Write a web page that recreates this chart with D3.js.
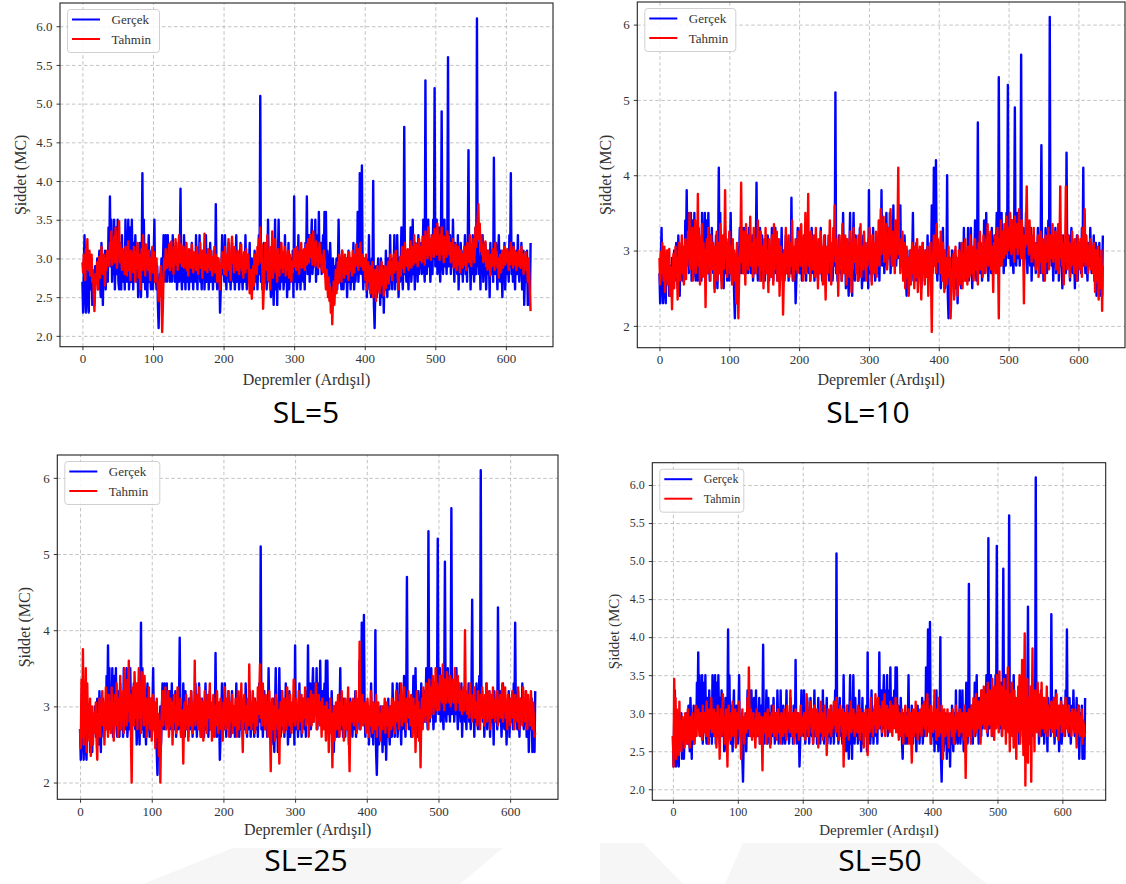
<!DOCTYPE html>
<html>
<head>
<meta charset="utf-8">
<script src="https://cdn.jsdelivr.net/npm/d3@7"></script>
<style>
  body { margin: 0; background: #fff; }
  svg { display: block; }
</style>
</head>
<body>
<div id="chart"></div>
<script>
// gerçek büyüklükler (aynı seri dört panelde)
const gercek = [
  2.7,2.3,2.9,3.3,2.6,2.3,2.8,3.0,2.5,2.3,2.9,2.7,2.6,3.0,2.4,2.8,2.6,2.4,2.9,2.7,
  2.8,3.0,2.6,2.9,3.1,2.7,2.5,3.2,2.9,2.4,3.0,2.8,3.1,2.6,2.9,3.0,2.7,3.4,3.0,3.8,
  2.9,3.5,2.7,3.1,2.8,3.5,2.6,3.0,3.4,2.8,3.5,2.7,2.6,3.2,3.0,2.6,3.3,2.8,2.7,3.1,
  2.6,3.5,2.9,2.7,3.0,3.5,2.6,2.8,3.4,2.7,3.5,3.0,2.6,3.2,2.8,3.3,2.9,2.7,3.0,2.5,
  2.9,3.2,2.8,2.5,3.0,4.1,2.7,3.5,2.9,2.6,3.1,2.8,2.5,3.0,3.3,2.7,2.9,2.6,3.1,2.8,
  2.6,3.0,3.5,2.7,2.8,2.6,2.9,2.4,2.1,2.6,2.8,2.7,3.0,2.5,2.9,3.3,2.8,2.7,3.3,2.9,
  2.7,3.3,2.8,3.0,2.7,3.2,2.9,2.7,3.3,2.8,3.0,2.7,2.9,3.2,2.6,2.8,3.1,2.7,3.0,3.9,
  2.8,2.6,3.0,2.7,3.3,2.9,2.6,3.2,2.8,2.7,3.0,2.6,3.1,2.8,2.7,3.2,2.9,2.6,3.0,2.8,
  2.7,3.3,2.9,2.6,3.0,2.8,3.3,2.7,2.9,2.6,3.1,2.8,3.0,2.6,2.9,3.3,2.7,2.8,3.0,2.6,
  2.9,3.2,2.7,2.8,3.0,2.6,3.1,2.9,2.7,3.7,2.8,2.6,3.0,2.7,2.9,2.3,2.6,2.9,3.3,2.8,
  3.0,2.7,3.3,2.9,2.6,3.0,2.8,3.2,2.7,2.9,2.6,3.0,3.2,2.8,2.7,3.0,2.6,2.9,3.3,2.7,
  2.8,3.0,2.6,2.9,3.2,2.7,2.8,2.6,3.0,2.9,2.7,3.3,2.8,2.6,3.0,2.7,2.9,3.2,2.6,2.8,
  3.0,2.7,2.9,2.6,3.1,2.8,2.7,3.0,2.6,2.9,3.3,2.8,5.1,2.7,3.0,2.6,2.9,3.2,2.8,2.7,
  3.0,2.6,2.8,3.5,2.9,2.7,3.0,2.5,2.8,3.1,2.7,2.4,3.0,3.5,2.6,2.9,2.4,3.0,3.5,2.8,
  2.6,3.2,2.7,2.9,3.0,2.6,2.8,3.3,2.7,3.0,2.5,2.8,3.2,2.6,2.9,2.7,3.0,2.8,3.1,2.5,
  3.8,2.7,2.9,3.0,2.6,2.8,3.3,2.7,3.0,2.6,2.9,3.1,2.8,2.7,3.0,2.6,3.2,2.9,3.8,2.8,
  3.0,3.3,2.7,2.9,3.2,3.5,2.8,3.0,3.3,2.9,3.5,2.7,3.0,3.3,2.8,3.6,2.9,3.0,3.2,2.8,
  3.0,3.3,2.9,3.6,3.0,3.6,2.8,3.1,2.9,3.0,2.7,3.2,2.9,2.6,2.4,3.0,2.7,2.9,2.6,2.8,
  3.0,2.6,2.9,3.5,2.7,3.0,2.8,2.6,3.1,2.8,2.6,3.0,2.9,2.7,3.0,2.5,2.8,3.1,2.7,2.9,
  2.6,3.0,2.8,2.7,3.2,2.6,2.9,2.7,3.0,2.8,3.6,2.7,2.9,4.1,3.0,2.8,4.2,2.9,2.6,3.0,
  2.8,2.7,3.0,2.5,2.9,2.7,3.3,2.6,2.8,2.5,3.0,2.7,4.0,2.4,2.1,2.6,2.9,2.5,2.7,3.0,
  2.6,2.8,2.4,3.0,2.7,2.5,2.9,2.3,2.8,2.6,3.1,2.7,2.5,3.0,2.8,2.6,3.3,2.7,2.9,2.6,
  3.0,2.8,3.3,2.6,2.9,2.7,3.3,2.8,2.5,3.0,2.7,2.9,3.4,2.8,2.6,3.0,4.7,2.8,3.0,2.7,
  3.1,2.9,2.6,3.0,2.8,3.4,2.7,2.9,3.5,2.8,3.0,2.6,3.2,2.9,3.0,2.7,3.3,2.8,3.0,2.9,
  3.2,2.8,3.0,3.5,2.9,2.7,5.3,3.0,2.8,3.2,3.5,2.9,3.1,2.7,3.0,3.3,2.8,3.5,3.0,5.2,
  2.9,3.1,3.5,2.8,3.0,3.4,2.9,2.7,3.2,4.9,3.0,2.8,3.3,3.5,2.9,3.1,2.8,3.2,5.6,2.9,
  3.0,3.3,2.8,3.1,2.9,3.5,3.0,2.7,3.2,2.9,3.0,2.8,3.3,2.6,3.0,2.9,3.2,2.8,3.0,2.7,
  3.1,2.9,3.3,2.8,3.0,2.7,3.2,4.4,2.9,3.0,2.6,3.1,2.8,3.3,2.9,2.7,3.0,3.4,2.8,6.1,
  2.9,3.2,2.8,3.0,2.6,3.1,2.9,3.3,2.7,3.0,2.8,3.2,2.6,2.9,3.1,2.8,3.0,2.5,3.2,2.8,
  2.9,3.1,2.7,4.3,3.0,2.8,3.2,2.9,2.6,3.0,3.3,2.8,2.7,3.1,2.9,2.5,3.0,2.8,3.2,2.6,
  2.9,3.1,2.8,3.0,2.7,3.3,2.9,4.1,2.8,3.0,2.7,3.2,2.9,2.6,3.0,3.1,2.8,3.3,2.9,2.7,
  3.0,2.8,3.2,2.6,2.9,3.1,2.4,2.8,3.0,2.7,3.1,2.4,2.9,2.6,2.4,3.2
];

// tahminler, SL=5
const tahminSL5 = [
  2.95,2.82,3.05,2.88,2.72,3.12,2.90,3.25,2.85,2.98,3.10,2.78,2.92,3.05,2.70,2.85,2.55,2.32,2.62,2.80,
  2.70,2.95,2.60,2.88,3.02,2.75,2.90,3.15,2.98,2.80,3.05,2.92,2.65,3.00,2.85,3.10,2.95,3.08,2.90,3.20,
  3.05,3.35,2.92,3.15,3.00,3.28,2.95,3.40,3.10,2.88,3.22,3.05,3.48,2.95,3.18,3.02,2.85,3.12,2.90,3.05,
  2.80,3.15,2.95,2.78,3.08,3.22,2.85,3.00,2.72,3.10,2.90,3.05,2.82,3.15,2.95,2.70,3.08,2.88,3.20,2.92,
  2.75,3.05,2.60,2.95,3.12,2.85,3.30,2.98,3.05,2.78,3.18,2.92,3.02,2.85,3.10,2.95,2.72,3.00,2.88,3.15,
  2.82,2.95,3.08,2.70,2.88,3.00,2.75,2.62,2.45,2.55,2.72,2.90,2.55,2.05,2.38,2.80,3.00,2.85,3.12,2.95,
  2.88,3.05,2.92,3.18,2.85,3.00,3.22,2.90,3.05,2.80,3.15,2.98,3.25,2.92,3.08,2.85,3.12,3.30,2.95,3.05,
  3.18,2.90,3.02,3.15,2.88,3.05,2.95,3.20,2.85,3.00,2.78,3.12,2.92,3.05,2.88,3.18,2.95,2.82,3.08,2.90,
  3.02,2.85,3.15,2.92,2.80,3.05,2.95,3.20,2.88,3.00,2.75,3.10,2.92,3.32,2.85,3.05,2.95,2.82,3.12,2.90,
  3.00,2.85,3.10,2.95,2.78,3.02,2.90,3.15,2.82,3.05,2.95,2.70,2.88,3.00,2.75,2.60,2.85,2.95,3.08,2.88,
  3.00,2.80,3.15,2.92,2.78,3.05,2.90,3.25,2.85,3.00,2.72,3.10,3.28,2.95,3.05,2.82,3.15,2.92,3.02,2.85,
  3.10,2.95,2.80,3.05,2.90,3.18,2.85,3.00,2.75,3.08,2.92,2.82,3.12,2.95,2.88,3.05,2.78,2.55,2.68,2.85,
  2.48,2.72,2.90,2.65,3.05,2.88,3.00,2.80,3.15,2.92,3.25,3.05,3.40,2.95,3.18,2.85,2.35,2.62,2.90,3.20,
  3.05,2.85,3.30,2.72,3.10,2.95,2.60,3.15,2.88,3.35,2.75,3.05,2.92,3.25,2.82,3.00,2.70,3.12,2.90,2.78,
  3.05,2.88,3.20,2.95,2.82,3.08,2.90,3.15,2.78,3.00,2.85,3.10,2.92,2.75,3.05,2.88,2.70,2.95,2.82,3.00,
  3.12,2.90,3.05,2.85,3.15,2.95,3.02,2.80,3.10,2.92,3.20,2.88,3.05,2.95,3.12,2.85,3.00,3.18,2.92,3.08,
  3.25,2.95,3.10,3.30,3.02,3.18,2.92,3.35,3.05,3.15,2.90,3.22,3.00,3.12,2.88,3.08,3.20,2.95,3.05,2.85,
  3.00,2.82,3.10,2.95,2.78,2.60,2.85,2.70,2.50,2.75,2.45,2.62,2.30,2.55,2.15,2.48,2.70,2.40,2.62,2.85,
  2.55,2.78,2.95,2.68,3.05,2.82,2.95,2.70,3.10,2.85,2.98,2.75,3.05,2.90,2.80,3.00,2.88,2.72,3.08,2.92,
  2.85,3.00,2.78,3.10,2.92,2.82,3.05,2.90,3.18,2.95,3.02,2.85,3.12,2.98,3.20,2.90,3.05,2.95,2.85,3.00,
  2.88,2.72,3.05,2.60,2.85,2.95,2.70,2.90,2.55,2.80,2.68,2.95,2.50,2.78,2.62,2.85,2.45,2.72,2.90,2.60,
  2.78,2.55,2.88,2.65,2.95,2.70,2.85,2.52,2.78,2.90,2.62,2.85,2.75,2.95,2.68,2.88,3.05,2.80,2.95,2.72,
  2.90,3.05,2.82,2.98,3.10,2.85,2.95,2.72,2.60,2.88,3.02,2.78,2.95,3.15,2.88,3.00,2.82,3.20,2.95,3.08,
  2.90,3.12,2.85,3.00,2.95,3.22,2.88,3.05,3.15,2.92,3.30,3.02,2.95,3.18,3.08,2.90,3.12,3.25,2.98,3.05,
  3.15,2.95,3.28,3.05,3.18,2.92,3.35,3.10,3.20,3.00,3.40,3.15,3.05,3.25,2.98,3.30,3.12,3.20,3.02,3.38,
  3.15,3.25,3.05,3.45,3.10,3.22,2.98,3.30,3.12,3.40,3.05,3.18,2.95,3.28,3.10,3.20,3.02,3.35,3.15,3.28,
  3.05,3.20,2.95,3.12,3.00,3.25,2.88,3.08,2.95,3.18,2.85,3.05,2.92,3.15,3.00,2.82,3.10,2.95,3.05,2.88,
  3.00,3.15,2.92,3.08,2.85,3.20,3.00,3.12,2.95,3.30,3.05,2.90,3.18,3.00,3.25,2.95,3.10,3.40,3.15,3.30,
  3.50,3.70,3.25,3.45,3.10,3.30,3.05,3.18,2.95,3.12,3.00,3.22,2.90,3.05,2.85,3.10,2.95,3.02,2.78,3.05,
  2.90,3.12,2.95,3.05,2.85,3.20,2.98,3.08,2.88,3.00,2.75,2.92,3.05,2.82,2.95,3.10,2.88,3.00,3.15,2.92,
  3.05,2.95,3.12,3.00,2.85,3.08,2.92,3.20,2.98,3.05,2.88,3.15,3.00,2.92,3.08,2.85,3.02,2.95,3.10,2.90,
  3.02,2.88,3.15,2.95,3.05,2.80,3.00,2.92,3.08,2.85,2.95,2.70,3.00,2.78,2.55,2.32
];

// tahminler, SL=10
const tahminSL10 = [
  2.90,2.55,2.98,2.70,3.10,2.80,2.60,3.05,2.45,2.90,2.75,3.00,2.55,2.85,3.02,2.40,2.78,2.60,2.22,2.70,
  2.95,2.50,2.80,3.05,2.65,2.90,2.35,2.75,3.10,2.60,2.95,2.80,3.20,2.70,3.05,2.55,2.88,3.15,2.62,3.00,
  2.80,3.25,2.90,3.50,2.75,3.10,2.95,3.30,2.60,3.05,2.85,3.40,2.70,3.15,2.95,3.75,2.80,3.20,2.55,3.05,
  2.90,3.35,2.65,3.10,2.85,3.00,2.25,2.95,3.15,2.70,3.30,2.85,3.05,2.60,3.20,2.90,2.75,3.10,2.95,2.45,
  3.05,2.80,3.25,2.60,2.95,3.10,2.70,3.35,2.85,2.50,3.00,3.20,2.75,3.05,3.80,2.90,3.15,2.65,3.00,2.85,
  3.25,2.70,3.05,2.90,2.55,3.15,2.80,3.00,2.60,2.95,2.30,3.10,2.75,2.10,2.60,2.90,3.05,3.90,2.85,3.10,
  2.70,3.25,2.95,2.55,3.35,2.85,3.05,2.75,3.20,2.90,3.45,2.80,3.10,2.95,2.65,3.30,2.85,3.05,2.70,3.15,
  2.90,3.40,2.80,3.10,2.60,3.25,2.95,2.75,3.05,2.50,3.15,2.85,3.30,2.70,3.00,2.90,2.45,3.15,2.80,3.05,
  2.65,3.20,2.90,2.55,3.35,2.75,3.05,2.85,3.25,2.60,2.95,3.15,2.40,2.80,3.05,2.70,2.95,2.15,2.60,3.00,
  2.85,3.30,2.70,3.05,2.90,3.20,2.65,2.95,3.10,2.80,3.40,2.85,2.60,3.05,2.90,3.15,2.75,3.00,2.70,3.25,
  2.90,3.10,2.80,3.35,2.95,3.05,2.60,3.20,2.85,3.50,2.70,3.15,2.95,3.75,2.80,3.05,2.60,3.25,2.90,3.10,
  2.75,3.20,2.95,2.65,3.30,2.85,3.05,2.50,3.15,2.90,2.70,3.25,2.85,3.05,2.55,2.95,3.20,2.75,2.35,2.90,
  3.05,2.70,3.20,2.85,3.40,2.95,2.55,3.10,2.80,3.30,2.95,3.60,2.85,3.15,2.70,3.05,2.40,2.90,3.20,2.75,
  3.10,2.60,3.35,2.85,3.05,2.70,3.20,2.95,2.55,3.15,2.80,3.00,2.65,3.25,2.90,2.45,3.10,2.75,3.30,2.85,
  2.95,3.15,2.70,3.05,2.60,3.20,2.90,2.80,3.35,2.65,3.05,2.95,2.75,3.25,2.85,3.10,2.60,3.00,2.80,3.15,
  2.90,3.30,2.75,3.05,2.55,3.20,2.95,2.70,3.10,2.85,3.25,2.65,3.00,2.90,3.40,2.80,3.15,3.55,2.95,3.25,
  3.05,3.45,2.85,3.20,3.00,3.35,2.75,3.10,2.90,3.30,2.95,3.55,3.05,2.80,3.25,2.95,3.15,2.70,3.40,2.90,
  3.10,3.30,4.10,2.95,3.15,2.70,3.05,2.85,3.25,2.60,2.95,3.10,2.50,2.80,3.05,2.65,2.90,2.40,2.75,3.00,
  2.55,2.85,3.10,2.70,2.95,2.50,3.05,2.80,2.65,3.15,2.45,2.90,2.75,3.05,2.60,2.35,2.85,3.10,2.70,2.95,
  2.55,3.00,2.80,2.65,3.05,2.40,2.85,2.70,3.10,2.60,1.92,2.75,2.95,3.20,2.80,3.05,2.70,3.35,2.90,3.15,
  2.85,3.05,2.70,3.25,2.90,2.60,3.10,2.80,2.45,3.00,2.70,2.90,2.55,2.80,3.05,2.65,2.90,2.10,2.45,2.75,
  2.60,2.95,2.35,2.80,3.05,2.65,2.90,2.40,2.75,3.00,2.55,2.85,2.70,3.10,2.50,2.80,2.95,2.60,3.15,2.75,
  2.90,2.55,3.05,2.80,2.65,3.20,2.90,2.70,3.05,2.85,2.60,2.95,3.15,2.75,3.00,2.85,2.55,3.10,2.90,3.25,
  2.75,3.05,2.90,2.65,3.20,2.85,3.00,2.70,3.15,2.95,3.35,2.80,3.10,2.95,3.25,2.75,3.05,2.90,2.45,3.10,
  2.95,3.20,2.70,3.05,3.30,2.85,2.10,3.15,2.95,3.40,2.80,3.25,3.05,2.90,3.35,3.10,2.95,3.45,3.15,3.00,
  3.30,3.05,3.50,3.15,2.95,3.40,3.10,3.25,2.85,3.45,3.20,3.05,3.35,2.95,3.15,3.55,3.05,3.25,2.90,3.40,
  3.15,3.00,2.30,3.20,3.05,3.35,3.85,3.10,3.25,2.95,3.40,3.05,3.20,2.85,3.15,3.00,3.30,2.90,3.10,2.75,
  3.05,2.90,3.20,2.65,3.10,2.85,3.25,3.00,2.70,3.15,2.95,3.05,2.60,3.20,2.85,3.10,2.95,3.30,2.75,3.05,
  3.20,2.90,3.10,3.35,2.85,3.15,3.00,3.25,2.75,3.05,2.95,3.35,2.70,3.10,3.85,2.90,3.20,2.80,3.05,2.55,
  3.10,2.85,3.85,3.00,2.75,3.20,2.95,3.10,2.65,3.05,2.80,3.25,2.90,3.00,2.70,3.15,2.85,3.05,2.60,3.20,
  2.90,3.05,2.75,3.15,2.95,2.65,3.30,2.85,3.05,3.55,2.80,3.20,2.95,3.10,2.70,3.00,2.85,3.15,2.75,3.05,
  2.90,2.70,3.10,2.80,2.45,3.00,2.85,2.60,3.05,2.35,2.90,2.75,2.50,3.00,2.20,2.80
];

// tahminler, SL=25
const tahminSL25 = [
  2.70,2.45,3.35,2.60,3.75,2.50,3.05,2.85,3.50,2.40,3.30,2.75,2.95,2.55,3.10,2.35,2.80,3.00,2.50,2.90,
  2.65,2.85,3.05,2.55,2.30,2.90,2.70,3.10,2.60,2.95,2.80,3.20,2.75,3.05,2.50,2.90,3.25,2.70,2.95,2.60,
  3.15,2.80,3.00,2.65,3.25,2.85,3.05,2.55,2.95,3.15,2.75,3.30,2.90,2.60,3.10,2.85,3.40,2.70,3.05,2.95,
  3.20,2.65,3.50,2.90,3.10,2.75,3.35,2.95,3.60,2.80,3.15,2.60,2.00,2.90,3.25,2.75,3.45,3.05,2.85,3.30,
  2.70,3.10,3.50,2.85,3.05,2.65,3.45,2.95,3.20,2.75,3.40,2.90,3.10,2.60,3.00,2.80,3.25,2.70,2.95,3.10,
  2.55,2.90,3.15,2.70,3.05,2.45,2.85,3.10,2.60,2.90,2.35,2.80,2.00,2.65,2.95,3.20,2.75,3.05,2.85,3.25,
  2.70,3.00,2.85,3.20,2.60,2.95,3.10,2.75,3.05,2.50,2.90,3.15,2.80,3.00,2.65,2.95,3.25,2.75,3.05,2.85,
  3.10,2.60,2.95,2.80,2.25,2.90,3.05,2.70,3.15,2.85,3.00,2.55,2.95,3.10,2.75,3.20,2.90,2.65,3.05,2.80,
  3.60,2.75,3.00,2.85,3.15,2.70,3.25,2.90,2.60,3.10,2.80,3.05,2.55,2.95,3.20,2.75,3.05,2.65,3.15,2.85,
  2.95,3.30,2.70,3.05,2.55,2.90,3.15,2.80,2.60,3.00,2.75,3.20,2.90,2.65,3.05,2.85,3.10,2.70,2.95,2.55,
  3.05,2.85,3.25,2.70,2.95,3.10,2.75,3.20,2.60,2.90,3.05,2.80,3.15,2.65,2.95,3.00,2.75,3.10,2.85,2.60,
  3.20,2.90,2.70,3.05,2.85,3.30,2.75,2.40,2.95,3.15,2.80,3.00,2.65,2.90,3.10,2.75,3.55,2.85,3.05,2.70,
  2.95,3.20,2.80,3.10,2.65,2.95,3.05,2.75,3.25,2.90,3.10,3.55,2.85,3.20,2.75,3.30,2.95,3.05,2.70,3.15,
  2.85,3.05,2.60,2.95,3.20,2.75,2.15,2.90,3.10,2.70,3.00,2.85,2.55,3.15,2.80,3.05,2.70,2.95,2.25,2.85,
  3.05,2.75,3.20,2.90,2.65,3.10,2.80,3.00,2.70,3.25,2.85,2.95,2.75,3.15,2.90,2.65,3.05,2.80,3.35,2.95,
  2.75,3.10,2.85,3.00,2.70,3.20,2.90,3.05,2.80,3.15,2.65,2.95,3.10,2.85,3.25,2.75,3.00,2.90,3.10,2.60,
  3.05,2.85,3.20,2.75,2.95,3.15,2.80,3.05,2.90,3.30,2.70,3.00,2.85,3.15,2.75,3.05,2.95,2.60,3.10,2.85,
  2.70,3.00,2.85,2.55,3.05,2.75,2.95,2.40,2.80,3.10,2.65,2.90,2.20,2.75,3.00,2.55,2.85,3.05,2.70,2.95,
  3.15,2.80,2.60,3.05,2.85,3.20,2.75,3.00,2.55,2.90,3.10,2.70,2.95,2.85,3.25,2.65,2.15,2.90,3.05,2.80,
  2.95,3.10,2.75,3.00,2.85,3.20,2.65,2.95,3.10,2.80,3.85,2.70,3.00,2.90,3.15,2.75,2.95,2.85,3.05,2.65,
  2.80,3.10,2.90,2.60,3.00,2.75,3.20,2.85,2.65,3.05,2.95,2.70,2.85,3.15,2.60,2.95,3.05,2.75,2.90,2.55,
  2.85,3.00,2.70,2.95,2.80,3.10,2.65,2.90,3.05,2.75,2.85,2.60,3.00,2.80,2.70,3.10,2.90,2.75,3.05,2.65,
  2.95,3.20,2.80,3.05,2.90,2.70,3.15,2.85,3.30,2.75,3.00,2.95,3.25,2.80,3.05,2.70,3.10,2.90,3.20,2.85,
  3.05,2.75,3.15,2.95,2.60,3.10,2.85,3.00,2.40,2.90,3.20,2.75,3.05,2.55,2.95,2.20,2.85,3.10,2.70,3.25,
  2.90,3.05,2.80,3.30,2.95,3.15,2.70,3.35,3.05,2.85,3.25,3.00,3.40,2.90,3.15,3.05,3.50,2.95,3.30,3.10,
  3.25,2.95,3.40,3.10,3.30,3.05,3.55,3.15,2.95,3.35,3.20,3.05,3.45,3.15,3.30,3.05,3.40,3.00,3.25,3.10,
  3.35,3.05,3.20,3.50,2.95,3.25,3.10,3.40,3.05,3.30,2.95,3.15,3.20,2.90,3.10,3.25,2.95,4.00,3.05,3.20,
  2.90,3.15,3.05,2.85,3.30,3.00,3.15,2.80,3.10,2.95,3.25,2.85,3.05,2.95,2.75,3.20,2.90,3.05,2.70,3.15,
  2.95,3.25,2.85,3.05,2.75,3.15,2.95,3.30,2.80,3.05,2.90,3.20,2.70,3.00,3.15,2.85,3.25,2.95,3.05,2.80,
  3.10,2.90,3.20,2.75,3.05,2.95,3.15,2.85,3.00,3.30,2.80,3.10,2.95,3.25,2.85,3.05,2.70,3.15,2.90,3.00,
  2.75,3.10,2.95,3.20,2.85,3.05,2.70,3.15,2.90,3.00,2.80,3.25,2.95,2.70,3.10,2.85,3.05,2.75,3.25,2.90,
  3.05,2.80,3.20,2.95,2.70,3.15,2.85,3.00,2.75,3.20,2.95,2.70,3.05,2.85,2.60,2.65
];

// tahminler, SL=50
const tahminSL50 = [
  2.70,2.30,3.45,2.85,3.20,2.40,3.05,2.55,2.95,2.45,3.15,2.60,2.90,2.50,2.80,2.95,2.65,2.85,2.55,3.00,
  2.75,2.90,2.60,3.05,2.70,2.85,2.55,2.95,2.80,2.65,3.00,2.75,2.90,2.60,2.85,3.10,2.70,2.95,2.80,3.05,
  2.85,2.70,3.00,2.80,2.95,2.65,3.10,2.85,2.75,3.00,2.90,2.70,3.15,2.85,2.95,2.60,3.05,2.80,2.90,3.20,
  2.75,2.95,2.85,3.05,2.70,2.90,3.00,2.55,2.85,3.10,2.75,2.95,2.40,2.85,3.05,2.70,2.90,3.25,2.80,2.95,
  2.60,2.85,3.05,2.75,2.30,2.90,3.10,2.80,2.95,2.65,3.00,2.85,3.15,2.70,2.95,2.80,3.05,2.55,2.90,3.00,
  2.80,2.95,3.15,2.70,2.90,2.40,2.85,3.05,2.75,2.95,2.60,2.85,3.00,2.75,2.90,3.20,2.80,3.60,2.95,2.70,
  3.05,2.85,2.65,2.95,3.00,2.75,2.90,2.55,2.85,3.05,2.70,2.95,2.80,3.00,2.60,2.85,2.95,2.70,2.25,2.90,
  2.95,2.75,3.00,2.85,2.60,2.90,3.05,2.70,2.95,2.80,2.55,2.90,3.00,2.75,2.85,3.10,2.70,2.95,2.80,3.00,
  2.65,2.90,3.05,2.75,2.95,2.85,2.60,3.00,2.80,2.90,2.70,3.05,2.85,2.75,2.95,2.65,3.10,2.80,2.90,3.00,
  2.75,3.30,2.85,2.95,2.70,3.00,2.80,2.60,2.90,3.05,2.75,2.95,2.85,3.00,2.65,2.90,2.80,3.10,2.70,2.95,
  2.85,2.75,3.00,2.90,2.65,2.95,3.25,2.80,3.00,2.70,2.90,3.15,2.85,2.95,2.75,3.05,2.60,2.90,3.10,2.80,
  2.95,2.70,3.05,2.85,2.55,2.90,3.00,2.75,3.15,2.85,2.95,2.65,3.00,2.80,3.10,2.70,2.90,2.45,2.85,3.05,
  2.75,2.95,2.85,3.10,2.70,3.00,2.80,2.95,3.15,2.85,3.00,2.75,3.20,2.90,3.05,2.80,2.65,2.95,3.10,2.85,
  2.95,2.75,3.05,2.30,2.85,3.00,2.70,2.95,3.10,2.80,2.90,2.65,3.00,2.85,3.15,2.75,2.95,2.80,3.05,2.90,
  2.70,2.95,2.85,3.00,2.75,3.10,2.90,2.80,2.65,3.05,2.85,2.95,2.75,3.00,2.55,2.90,2.80,3.05,2.70,2.95,
  2.45,2.85,3.05,2.75,2.95,3.20,2.80,3.00,2.70,2.90,3.05,2.85,3.25,2.75,3.00,2.90,3.20,2.80,3.10,2.95,
  2.85,3.05,2.75,3.15,2.95,2.85,3.25,2.70,3.00,2.90,3.10,2.80,3.05,2.95,2.75,3.15,2.85,3.00,2.70,3.10,
  2.90,3.05,2.80,3.20,2.75,2.95,3.10,2.85,2.65,3.00,2.80,2.95,2.70,3.05,2.85,2.60,2.95,2.75,3.10,2.85,
  2.70,2.95,2.85,3.05,2.60,2.90,3.00,2.75,2.35,2.85,3.05,2.70,2.95,2.80,3.15,2.75,2.90,2.65,3.00,2.85,
  2.75,3.05,2.90,2.70,3.10,2.85,2.95,3.15,2.80,3.00,2.70,2.95,3.25,2.85,3.05,2.75,2.95,2.60,3.10,2.85,
  3.00,2.75,2.90,3.30,2.80,3.05,2.65,2.95,2.85,3.20,2.70,3.00,2.90,2.75,3.10,2.85,2.40,2.95,3.05,2.80,
  2.70,2.95,2.85,3.05,2.75,2.55,2.90,3.00,2.80,2.95,2.70,3.05,2.85,2.60,2.95,2.75,3.10,2.90,2.80,3.00,
  2.85,2.70,3.05,2.90,2.75,3.00,2.80,2.95,2.65,3.10,2.85,2.15,2.75,3.00,2.90,2.70,3.05,2.85,2.95,2.60,
  3.10,2.80,2.95,3.20,2.70,3.00,2.85,3.25,2.75,3.05,2.90,3.15,2.80,3.00,2.60,3.30,2.85,3.05,2.95,3.35,
  2.80,3.10,2.90,3.25,2.75,3.40,3.00,2.85,3.30,2.95,3.15,2.70,3.45,2.90,3.20,2.65,3.35,3.05,2.80,3.50,
  2.95,3.25,2.75,3.55,3.00,2.85,3.35,2.70,3.20,2.95,3.45,2.80,3.10,2.60,3.30,2.90,3.60,2.75,3.15,2.50,
  3.25,2.95,3.40,2.70,3.10,2.55,3.30,2.85,3.05,2.40,3.20,2.75,3.35,2.95,3.50,2.60,3.15,2.85,3.70,3.00,
  2.45,3.25,4.05,2.05,3.10,2.80,3.45,2.35,3.20,2.90,2.60,3.35,2.10,3.00,3.85,2.75,3.15,2.50,3.30,2.85,
  3.05,2.75,3.40,2.90,3.15,2.70,3.25,2.95,3.40,2.80,3.05,2.90,3.20,2.75,3.00,2.85,3.35,2.70,3.10,2.95,
  2.80,3.05,2.90,3.15,2.75,3.00,2.85,3.20,2.70,3.05,2.90,3.25,2.80,3.00,2.65,3.10,2.85,2.95,3.15,2.75,
  3.00,2.85,3.10,2.70,2.95,3.20,2.80,3.05,2.90,2.75,3.10,2.85,3.00,2.95,2.70,3.05,2.80,3.00,2.90,2.75,
  3.05,2.85,2.55,3.00,2.75,3.10,2.85,2.70,2.95,2.80,3.05,2.60,2.90,2.85,2.70,2.75
];

const panelTitles = ["SL=5", "SL=10", "SL=25", "SL=50"];
const seriesNames = ["Gerçek", "Tahmin"];
const xTickValues = [0, 100, 200, 300, 400, 500, 600];
const yTicksHalf = [2.0, 2.5, 3.0, 3.5, 4.0, 4.5, 5.0, 5.5, 6.0];
const yTicksWhole = [2, 3, 4, 5, 6];

const W = 1126, H = 884;
const serif = "'Liberation Serif', 'Times New Roman', serif";

// panel yerleşimi (piksel)
const panels = [
  { title: panelTitles[0], tahmin: tahminSL5, left: 60, right: 553, top: 3, bottom: 346.7,
    yDom: [1.86, 6.30], yTicks: yTicksHalf, fmt: d3.format(".1f"),
    fs: 13, labFs: 16, legW: 92, titleX: 306, titleY: 423, xLabY: 385, yLabX: 26 },
  { title: panelTitles[1], tahmin: tahminSL10, left: 637.3, right: 1125, top: 2, bottom: 347.7,
    yDom: [1.71, 6.30], yTicks: yTicksWhole, fmt: d3.format("d"),
    fs: 13, labFs: 16, legW: 91, titleX: 868, titleY: 423, xLabY: 385, yLabX: 611 },
  { title: panelTitles[2], tahmin: tahminSL25, left: 57.3, right: 558, top: 455, bottom: 799.3,
    yDom: [1.78, 6.30], yTicks: yTicksWhole, fmt: d3.format("d"),
    fs: 13, labFs: 16, legW: 95, titleX: 306, titleY: 871, xLabY: 835, yLabX: 30 },
  { title: panelTitles[3], tahmin: tahminSL50, left: 652.3, right: 1105.7, top: 462.7, bottom: 800.3,
    yDom: [1.855, 6.293], yTicks: yTicksHalf, fmt: d3.format(".1f"),
    fs: 12, labFs: 15, legW: 84, titleX: 880, titleY: 871, xLabY: 835, yLabX: 619 }
];

const svg = d3.select('#chart').append('svg')
  .attr('width', W)
  .attr('height', H)
  .attr('font-family', serif);

svg.append('rect').attr('width', W).attr('height', H).attr('fill', '#fff');

// soluk filigran parçaları
const wm = svg.append('g').attr('fill', '#f6f6f6');
[
  [[143, 884], [233, 848], [503, 848], [460, 884]],
  [[600, 843], [643, 843], [683, 884], [600, 884]],
  [[743, 843], [937, 843], [987, 884], [725, 884]]
].forEach(p => wm.append('polygon').attr('points', p.map(d => d.join(',')).join(' ')));

panels.forEach((p, pi) => {
  const x = d3.scaleLinear().domain([-31.75, 666.75]).range([p.left, p.right]);
  const y = d3.scaleLinear().domain(p.yDom).range([p.bottom, p.top]);
  const g = svg.append('g');

  const clipId = 'clip' + pi;
  g.append('clipPath').attr('id', clipId)
    .append('rect')
    .attr('x', p.left).attr('y', p.top)
    .attr('width', p.right - p.left).attr('height', p.bottom - p.top);

  // ızgara
  g.append('g')
    .attr('transform', `translate(0,${p.bottom})`)
    .call(d3.axisBottom(x).tickValues(xTickValues).tickSize(-(p.bottom - p.top)).tickFormat(''))
    .call(s => s.select('.domain').remove())
    .selectAll('line')
    .attr('stroke', '#b4b4b4').attr('stroke-width', 0.8).attr('stroke-dasharray', '3.5,2.5');
  g.append('g')
    .attr('transform', `translate(${p.left},0)`)
    .call(d3.axisLeft(y).tickValues(p.yTicks).tickSize(-(p.right - p.left)).tickFormat(''))
    .call(s => s.select('.domain').remove())
    .selectAll('line')
    .attr('stroke', '#b4b4b4').attr('stroke-width', 0.8).attr('stroke-dasharray', '3.5,2.5');

  // seriler
  const line = d3.line().x((d, i) => x(i)).y(d => y(d));
  const plot = g.append('g').attr('clip-path', `url(#${clipId})`);
  plot.append('path').datum(gercek)
    .attr('d', line).attr('fill', 'none')
    .attr('stroke', '#0000ff').attr('stroke-width', 2.4).attr('stroke-linejoin', 'round');
  plot.append('path').datum(p.tahmin)
    .attr('d', line).attr('fill', 'none')
    .attr('stroke', '#ff0000').attr('stroke-width', 2.4).attr('stroke-linejoin', 'round');

  // eksenler
  const xAxis = g.append('g')
    .attr('transform', `translate(0,${p.bottom})`)
    .call(d3.axisBottom(x).tickValues(xTickValues).tickSize(3.5).tickPadding(4).tickFormat(d3.format('d')));
  const yAxis = g.append('g')
    .attr('transform', `translate(${p.left},0)`)
    .call(d3.axisLeft(y).tickValues(p.yTicks).tickSize(3.5).tickPadding(4).tickFormat(p.fmt));
  [xAxis, yAxis].forEach(a => {
    a.select('.domain').remove();
    a.selectAll('line').attr('stroke', '#222').attr('stroke-width', 0.9);
    a.selectAll('text').attr('font-family', serif).attr('font-size', p.fs).attr('fill', '#333');
  });

  // çerçeve
  g.append('rect')
    .attr('x', p.left).attr('y', p.top)
    .attr('width', p.right - p.left).attr('height', p.bottom - p.top)
    .attr('fill', 'none').attr('stroke', '#222').attr('stroke-width', 1.1);

  // eksen adları
  g.append('text')
    .attr('x', (p.left + p.right) / 2).attr('y', p.xLabY)
    .attr('text-anchor', 'middle')
    .attr('font-size', p.labFs).attr('fill', '#333')
    .text('Depremler (Ardışıl)');
  g.append('text')
    .attr('transform', `translate(${p.yLabX},${(p.top + p.bottom) / 2}) rotate(-90)`)
    .attr('text-anchor', 'middle')
    .attr('font-size', p.labFs).attr('fill', '#333')
    .text('Şiddet (MC)');

  // lejant
  const lx = p.left + 7.5, ly = p.top + 6.5;
  const lg = g.append('g').attr('transform', `translate(${lx},${ly})`);
  lg.append('rect')
    .attr('width', p.legW).attr('height', 43).attr('rx', 3)
    .attr('fill', '#fff').attr('fill-opacity', 0.85)
    .attr('stroke', '#d0d0d0').attr('stroke-width', 1);
  const colors = ['#0000ff', '#ff0000'];
  seriesNames.forEach((name, i) => {
    const ry = 10 + i * 19.5;
    lg.append('line')
      .attr('x1', 4.5).attr('x2', 32.5).attr('y1', ry).attr('y2', ry)
      .attr('stroke', colors[i]).attr('stroke-width', 2);
    lg.append('text')
      .attr('x', 44).attr('y', ry).attr('dy', '0.35em')
      .attr('font-size', p.fs).attr('fill', '#333')
      .text(name);
  });

  // alt başlık
  svg.append('text')
    .attr('x', p.titleX).attr('y', p.titleY)
    .attr('text-anchor', 'middle')
    .attr('font-family', "'Open Sans', 'Noto Sans', sans-serif")
    .attr('font-size', 30).attr('fill', '#000')
    .text(p.title);
});
</script>
</body>
</html>
